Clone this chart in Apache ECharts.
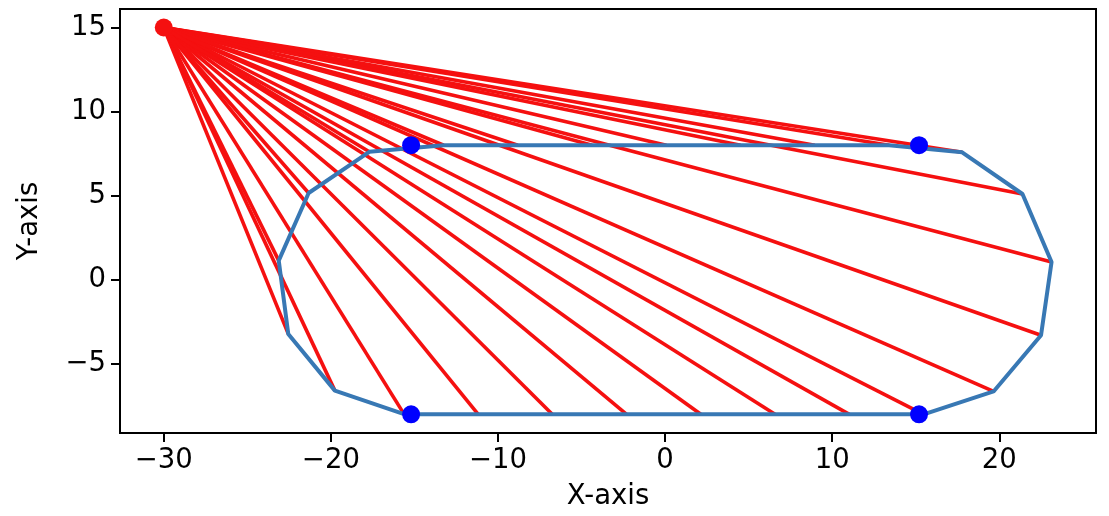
<!DOCTYPE html>
<html>
<head>
<meta charset="utf-8">
<script src="https://cdn.jsdelivr.net/npm/echarts@6/dist/echarts.min.js"></script>
<style>
  html, body { margin: 0; padding: 0; background: #fff; }
  #chart { width: 1109px; height: 516px; }
</style>
</head>
<body>
<div id="chart"></div>
<script>
// source point of the fan
const sourceX = -30;
const sourceY = 15;

const hullX = [-11.18, -6.75, -2.30, 2.14, 6.58, 11.03,
    15.47, 19.66, 22.50, 23.13, 21.39, 17.78,
    13.41, 8.96, 4.52, 0.08, -4.37, -8.81, -13.25,
    -17.70, -21.33, -23.12, -22.55, -19.76, -15.62];
const hullY = [-8, -8, -8, -8, -8, -8,
    -8.0, -6.64, -3.30, 1.06, 5.10, 7.58,
    8, 8, 8, 8, 8, 8, 8,
    7.61, 5.16, 1.14, -3.22, -6.59, -7.99];

// corner markers
const cornerX = [-15.2, 15.2, 15.2, -15.2];
const cornerY = [8, 8, -8, -8];

// tick labels
const xTicks = [-30, -20, -10, 0, 10, 20];
const yTicks = [-5, 0, 5, 10, 15];

const chartDom = document.getElementById('chart');
const myChart = echarts.init(chartDom, null, { renderer: 'canvas' });

const fontFamily = 'DejaVu Sans';
const fontSize = 27.5;
const minus = v => String(v).replace('-', '\u2212');

const fanData = hullX.map((x, i) => ({ coords: [[sourceX, sourceY], [x, hullY[i]]] }));
const outline = hullX.map((x, i) => [x, hullY[i]]);
outline.push([hullX[0], hullY[0]]);
const corners = cornerX.map((x, i) => [x, cornerY[i]]);

const option = {
    animation: false,
    backgroundColor: '#fff',
    grid: {
        left: 120, right: 13, top: 9, bottom: 82,
        show: true, borderColor: '#000', borderWidth: 2, backgroundColor: 'transparent'
    },
    xAxis: {
        type: 'value',
        min: -32.62, max: 25.79,
        name: 'X-axis', nameLocation: 'middle', nameGap: 50,
        nameTextStyle: { fontFamily, fontSize, color: '#000' },
        splitLine: { show: false },
        axisLine: { show: true, onZero: false, lineStyle: { color: '#000', width: 2 } },
        axisTick: { show: true, length: 9, customValues: xTicks, lineStyle: { color: '#000', width: 2 } },
        axisLabel: { customValues: xTicks, formatter: minus, fontFamily, fontSize, color: '#000', margin: 14 }
    },
    yAxis: {
        type: 'value',
        min: -9.11, max: 16.10,
        name: 'Y-axis', nameLocation: 'middle', nameGap: 76,
        nameTextStyle: { fontFamily, fontSize, color: '#000' },
        splitLine: { show: false },
        axisLine: { show: true, onZero: false, lineStyle: { color: '#000', width: 2 } },
        axisTick: { show: true, length: 9, customValues: yTicks, lineStyle: { color: '#000', width: 2 } },
        axisLabel: { customValues: yTicks, formatter: minus, fontFamily, fontSize, color: '#000', margin: 14 }
    },
    series: [
        {
            type: 'lines',
            coordinateSystem: 'cartesian2d',
            z: 2,
            lineStyle: { color: '#f51010', width: 3.6, opacity: 1 },
            data: fanData
        },
        {
            type: 'line',
            z: 3,
            symbol: 'none',
            lineStyle: { color: '#3878b4', width: 4 },
            data: outline
        },
        {
            type: 'scatter',
            z: 4,
            symbolSize: 18,
            itemStyle: { color: '#0000ff', opacity: 1 },
            data: corners
        },
        {
            type: 'scatter',
            z: 5,
            symbolSize: 18,
            itemStyle: { color: '#f51010', opacity: 1 },
            data: [[sourceX, sourceY]]
        }
    ]
};

myChart.setOption(option);
window.addEventListener('resize', () => myChart.resize());
</script>
</body>
</html>
